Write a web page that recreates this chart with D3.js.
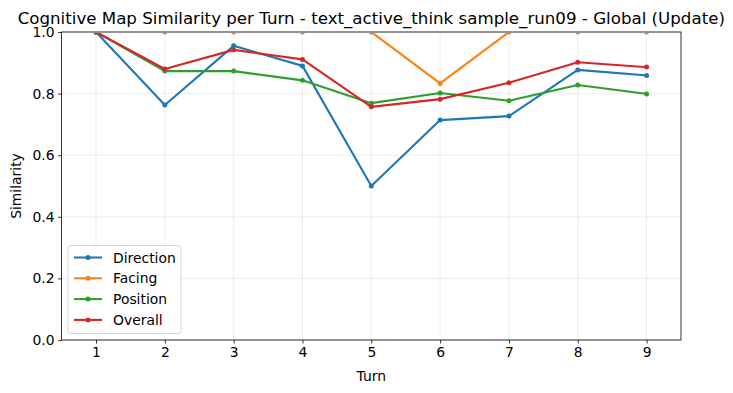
<!DOCTYPE html>
<html><head><meta charset="utf-8">
<script src="https://cdn.jsdelivr.net/npm/d3@7"></script>
<style>body{margin:0;background:#fff}svg{display:block;font-family:"DejaVu Sans",sans-serif}</style>
</head><body>
<svg id="c" width="733" height="393"></svg>
<script>
const turns = [1,2,3,4,5,6,7,8,9];
const direction = [1.0,0.763,0.955,0.89,0.5,0.714,0.727,0.877,0.859];
const facing = [1,1,1,1,1,0.833,1,1,1];
const position = [1.0,0.873,0.873,0.843,0.769,0.802,0.777,0.828,0.799];
const overall = [1.0,0.880,0.942,0.911,0.757,0.782,0.835,0.902,0.886];
const yTicks = [0.0,0.2,0.4,0.6,0.8,1.0];
const seriesNames = ["Direction","Facing","Position","Overall"];
const colors = ["#1f77b4","#ff7f0e","#2ca02c","#d62728"];
const title = "Cognitive Map Similarity per Turn - text_active_think sample_run09 - Global (Update)";

const series = [direction,facing,position,overall];
const svg = d3.select("#c");
const L=61.6,R=681,T=32,B=340;
const x = d3.scaleLinear().domain([0.5,9.5]).range([L,R]);
const y = d3.scaleLinear().domain([0,1]).range([B,T]);

svg.append("defs").append("clipPath").attr("id","clip").append("rect")
  .attr("x",L).attr("y",T+1.1).attr("width",R-L).attr("height",B-T-1.1);

// grid
const g = svg.append("g");
turns.forEach(t=>g.append("line").attr("x1",x(t)).attr("x2",x(t)).attr("y1",T).attr("y2",B)
  .attr("stroke","#b0b0b0").attr("stroke-opacity",0.3).attr("stroke-width",0.8));
yTicks.forEach(v=>g.append("line").attr("x1",L).attr("x2",R).attr("y1",y(v)).attr("y2",y(v))
  .attr("stroke","#b0b0b0").attr("stroke-opacity",0.3).attr("stroke-width",0.8));

// lines
const plot = svg.append("g").attr("clip-path","url(#clip)");
const line = d3.line().x((d,i)=>x(turns[i])).y(d=>y(d));
series.forEach((s,k)=>{
  plot.append("path").datum(s).attr("d",line).attr("fill","none")
    .attr("stroke",colors[k]).attr("stroke-width",2.1).attr("stroke-linejoin","round").attr("stroke-linecap","square");
  plot.selectAll(null).data(s).enter().append("circle")
    .attr("cx",(d,i)=>x(turns[i])).attr("cy",d=>y(d)).attr("r",2.5).attr("fill",colors[k]);
});

// axes
const xa = svg.append("g").attr("transform",`translate(0,${B})`)
  .call(d3.axisBottom(x).tickValues(turns).tickFormat(d3.format("d")).tickSize(3.5).tickPadding(3.5));
const ya = svg.append("g").attr("transform",`translate(${L},0)`)
  .call(d3.axisLeft(y).tickValues(yTicks).tickFormat(d3.format(".1f")).tickSize(3.5).tickPadding(3.5));
[xa,ya].forEach(a=>{a.select(".domain").remove();
  a.selectAll("text").attr("font-size",13.9).attr("fill","#000").attr("font-family","DejaVu Sans");
  a.selectAll("line").attr("stroke","#000").attr("stroke-width",0.8);});

svg.append("rect").attr("x",L).attr("y",T).attr("width",R-L).attr("height",B-T)
  .attr("fill","none").attr("stroke","#000").attr("stroke-width",0.8);

svg.append("text").attr("x",(L+R)/2).attr("y",23.5).attr("text-anchor","middle")
  .attr("font-size",16.67).text(title);
svg.append("text").attr("x",(L+R)/2).attr("y",381).attr("text-anchor","middle")
  .attr("font-size",13.9).text("Turn");
svg.append("text").attr("transform",`translate(21,${(T+B)/2}) rotate(-90)`).attr("text-anchor","middle")
  .attr("font-size",13.9).text("Similarity");

// legend
const lg = svg.append("g");
lg.append("rect").attr("x",68).attr("y",245.5).attr("width",113).attr("height",88).attr("rx",3)
  .attr("fill","#fff").attr("fill-opacity",0.8).attr("stroke","#cccccc").attr("stroke-width",0.8);
seriesNames.forEach((n,k)=>{
  const yy = 257.5 + k*20.8;
  lg.append("line").attr("x1",74).attr("x2",102).attr("y1",yy).attr("y2",yy)
    .attr("stroke",colors[k]).attr("stroke-width",2.1);
  lg.append("circle").attr("cx",88).attr("cy",yy).attr("r",2.5).attr("fill",colors[k]);
  lg.append("text").attr("x",113).attr("y",yy+5).attr("font-size",13.9).text(n);
});
</script>
</body></html>
